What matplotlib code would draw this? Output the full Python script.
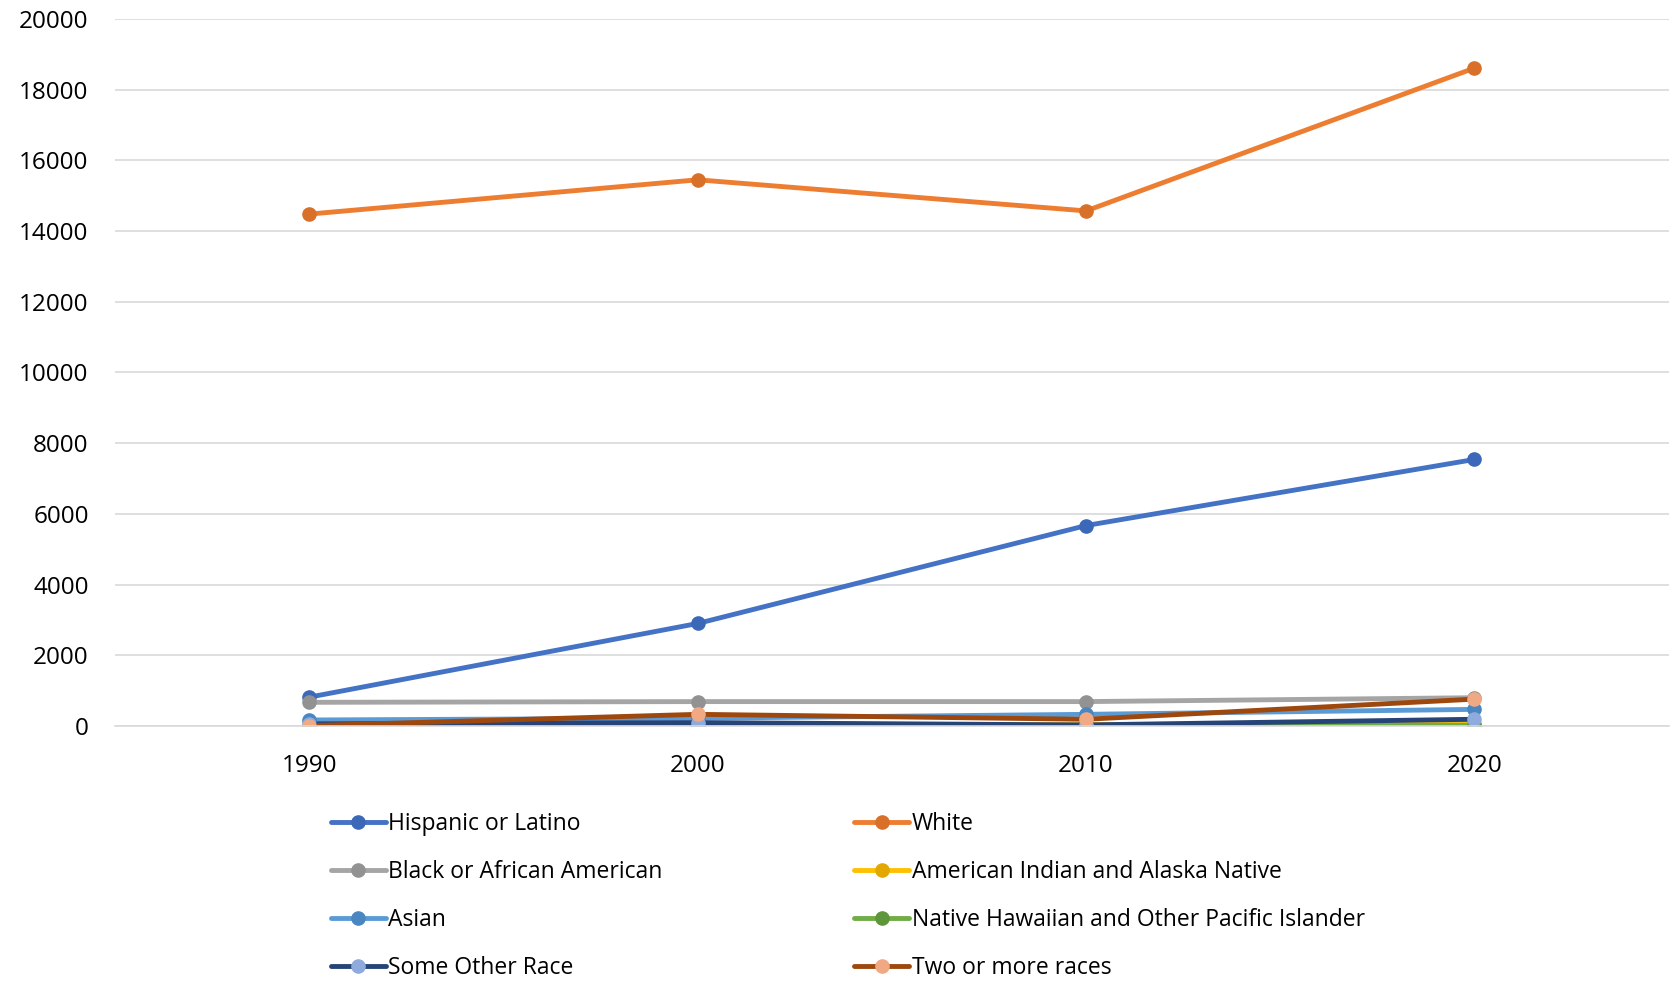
import matplotlib.pyplot as plt

years = ['1990', '2000', '2010', '2020']

hispanic = [815, 2900, 5670, 7540]
white = [14480, 15450, 14570, 18610]
black = [670, 690, 690, 800]
am_indian = [30, 40, 40, 60]
asian = [170, 220, 330, 470]
nhpi = [5, 20, 15, 20]
other = [60, 95, 30, 190]
two_more = [10, 330, 190, 760]

series = [
    ('Hispanic or Latino', hispanic, '#4472C4', '#3B68B8'),
    ('White', white, '#ED7D31', '#D8702A'),
    ('Black or African American', black, '#A5A5A5', '#929292'),
    ('American Indian and Alaska Native', am_indian, '#FFC000', '#E3A800'),
    ('Asian', asian, '#5B9BD5', '#4A86C0'),
    ('Native Hawaiian and Other Pacific Islander', nhpi, '#70AD47', '#5E963A'),
    ('Some Other Race', other, '#264478', '#8FAADC'),
    ('Two or more races', two_more, '#9E480E', '#F1A983'),
]

plt.rcParams['font.family'] = ['Open Sans', 'DejaVu Sans']

fig = plt.figure(figsize=(16.72, 9.82), dpi=100)
ax = fig.add_axes([0.0688, 0.2607, 0.9292, 0.72])

x = range(len(years))
handles = []
for name, vals, col, mcol in series:
    h, = ax.plot(x, vals, color=col, lw=3.5, marker='o', markersize=9.5,
                 markerfacecolor=mcol, markeredgecolor=mcol, label=name,
                 solid_capstyle='round')
    handles.append(h)

ax.set_xlim(-0.5, 3.5)
ax.set_ylim(0, 20000)
ax.set_yticks(range(0, 20001, 2000))
ax.set_xticks(list(x))
ax.set_xticklabels(years)
ax.grid(axis='y', color='#D9D9D9', lw=1.2)
ax.set_axisbelow(True)
for s in ['top', 'right', 'left']:
    ax.spines[s].set_visible(False)
ax.spines['bottom'].set_color('#D9D9D9')
ax.spines['bottom'].set_linewidth(1.2)
ax.tick_params(length=0, labelsize=17.5)
ax.tick_params(axis='x', pad=20.5)
ax.tick_params(axis='y', pad=19)

# legend reads row by row in the reference, matplotlib fills by column
order = handles[0::2] + handles[1::2]
leg = fig.legend(order, [h.get_label() for h in order],
                 loc='upper left', bbox_to_anchor=(0.1855, 0.194), ncol=2,
                 frameon=False, fontsize=16.5, handlelength=2.4,
                 handletextpad=0.1, labelspacing=1.05, columnspacing=8.37)

fig.savefig('out.png', dpi=100)
